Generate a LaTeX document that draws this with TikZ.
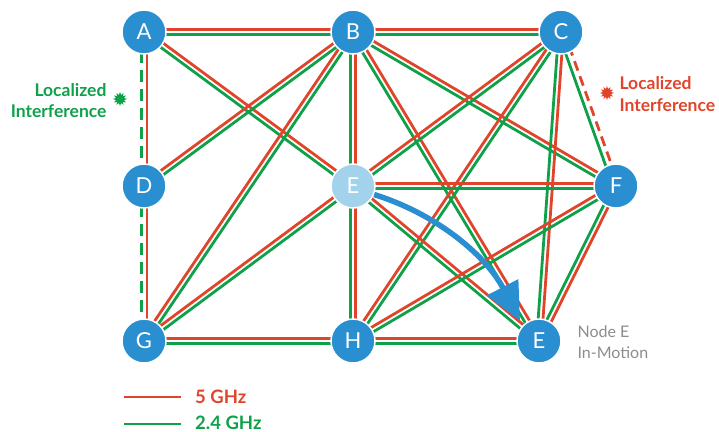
\documentclass[tikz,border=0pt]{standalone}
\usepackage{fontspec}
\setmainfont{Lato}
\usetikzlibrary{calc,backgrounds,arrows.meta,shapes.geometric}
\definecolor{nodeblue}{HTML}{2A8FD0}
\definecolor{lightblue}{HTML}{A3D3EC}
\definecolor{linkred}{HTML}{E0452B}
\definecolor{linkgreen}{HTML}{0FA04A}
\definecolor{labelgray}{HTML}{8C8C8C}
% red on the left of a->b, green on the right
\newcommand\rglink[5][2.4]{%
  \draw[redline,#2] ($(#4)!#1pt!90:(#5)$) -- ($(#5)!#1pt!-90:(#4)$);
  \draw[greenline,#3] ($(#4)!#1pt!-90:(#5)$) -- ($(#5)!#1pt!90:(#4)$);}
\begin{document}
\begin{tikzpicture}[x=1pt,y=-1pt,
  redline/.style={draw=linkred,line width=2.8pt},
  greenline/.style={draw=linkgreen,line width=2.8pt},
  dashline/.style={dash pattern=on 12pt off 7pt},
  meshnode/.style={circle,fill=nodeblue,draw=white,line width=1.5pt,minimum size=44pt,inner sep=0pt,text=white,font=\fontsize{22}{22}\selectfont},
  ghostnode/.style={meshnode,fill=lightblue},
  burst/.style={star,star points=12,star point ratio=1.7,minimum size=14pt,inner sep=0pt,fill=#1},
  greenlabel/.style={text=linkgreen,font=\bfseries\fontsize{17.5}{21}\selectfont},
  redlabel/.style={text=linkred,font=\bfseries\fontsize{17.5}{22}\selectfont},
  legendtext/.style={font=\bfseries\fontsize{18.5}{18.5}\selectfont,anchor=west,inner sep=1pt},
  grey/.style={text=labelgray,font=\fontsize{16}{21}\selectfont,align=left,anchor=west},
  motion/.style={draw=nodeblue,line width=5.5pt,-{Triangle[length=38pt,width=34pt]}}
]
\useasboundingbox (0,0) rectangle (719,431);

\node[meshnode]  (A)  at (144,32)  {A};
\node[meshnode]  (B)  at (353,32)  {B};
\node[meshnode]  (C)  at (561,32)  {C};
\node[meshnode]  (D)  at (144,186) {D};
\node[ghostnode] (E1) at (353,186) {E};
\node[meshnode]  (F)  at (616,186) {F};
\node[meshnode]  (G)  at (144,341) {G};
\node[meshnode]  (H)  at (353,341) {H};
\node[meshnode]  (E2) at (539,341) {E};

\begin{scope}[on background layer]
  \rglink{}{}{A}{B}
  \rglink{}{}{B}{C}
  \rglink[2.9]{}{dashline}{A}{D}
  \rglink[2.9]{}{dashline}{D}{G}
  \rglink{}{}{A}{E1}
  \rglink{}{}{D}{B}
  \rglink{}{}{G}{B}
  \rglink{}{}{B}{E1}
  \rglink{}{}{E1}{H}
  \rglink{}{}{B}{F}
  \rglink{}{}{B}{E2}
  \rglink{}{}{E1}{C}
  \rglink{}{}{H}{C}
  \rglink{}{}{C}{E2}
  \rglink[2.9]{dash pattern=on 10pt off 6pt}{}{C}{F}
  \rglink{}{}{E1}{F}
  \rglink{}{}{E1}{E2}
  \rglink{}{}{G}{E1}
  \rglink{}{}{G}{H}
  \rglink{}{}{H}{E2}
  \rglink{}{}{H}{F}
  \rglink{}{}{F}{E2}
\end{scope}

\draw[motion] (E1.-22) .. controls +(67,21) and +(-32,-62) .. ($(E2)+(-19,-20)$);

\node[greenlabel,align=right,anchor=east] (gl) at (110,101) {Localized\\Interference};
\node[burst=linkgreen] (gs) at (120,99) {};
\node[redlabel,align=left,anchor=west] (rl) at (616,94) {Localized\\Interference};
\node[burst=linkred] (rs) at (607,93) {};

\node[grey] (note) at (574,342) {Node E\\In-Motion};

\coordinate (r1) at (124,397);
\coordinate (r2) at (181,397);
\coordinate (g1) at (124,424);
\coordinate (g2) at (181,424);
\draw[redline] (r1) -- (r2);
\draw[greenline] (g1) -- (g2);
\node[legendtext,text=linkred] (t5) at (194,397) {5 GHz};
\node[legendtext,text=linkgreen] (t24) at (194,423) {2.4 GHz};
\end{tikzpicture}
\end{document}
